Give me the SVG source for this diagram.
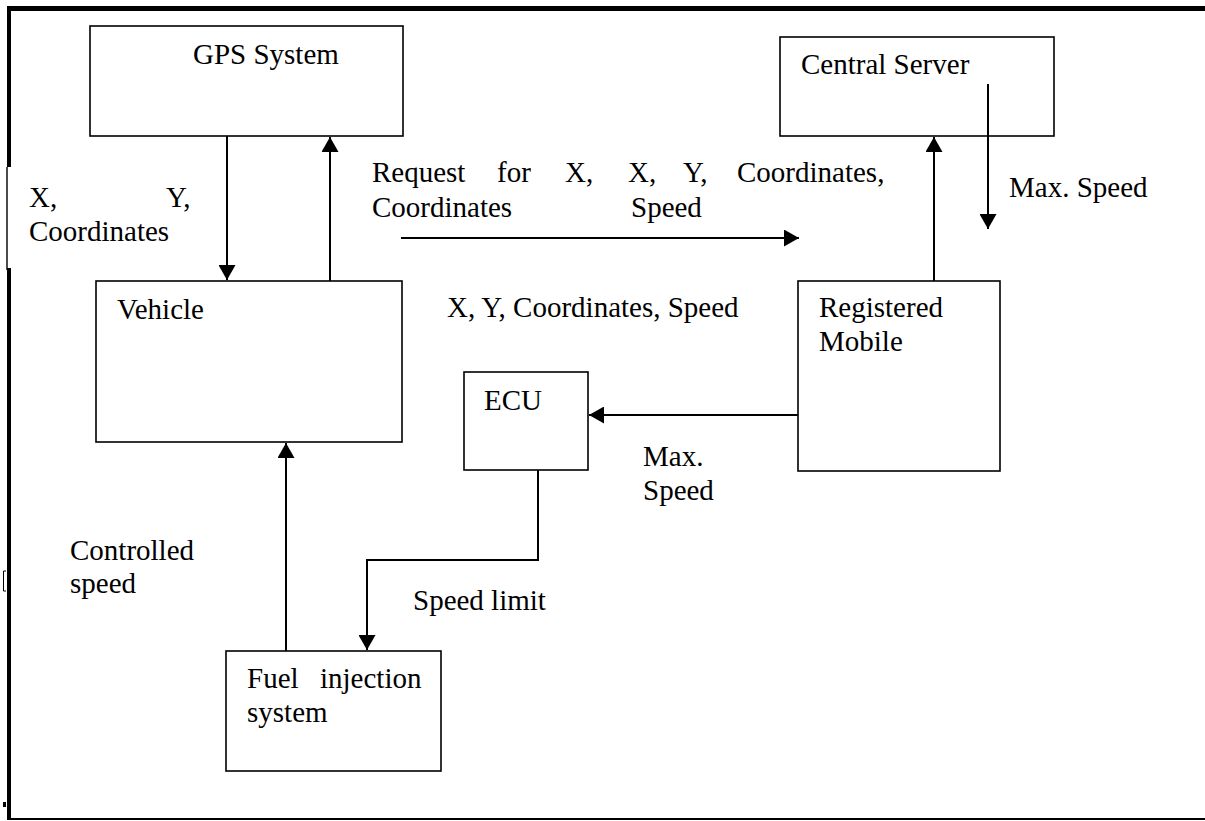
<svg xmlns="http://www.w3.org/2000/svg" width="1205" height="821" viewBox="0 0 1205 821">
<style>
  .box { fill: #fff; stroke: #000; stroke-width: 1.6; }
  .conn { fill: none; stroke: #000; stroke-width: 2; }
  text { font-family: "Liberation Serif", "Times New Roman", serif; font-size: 29px; fill: #000; }
</style>
<defs>
  <marker id="arr" markerUnits="userSpaceOnUse" markerWidth="16" markerHeight="17" refX="15" refY="8.5" orient="auto">
    <path d="M0,0 L15,8.5 L0,17 z" fill="#000"/>
  </marker>
</defs>
<rect width="1205" height="821" fill="#fff"/>
<g id="frame" fill="#000">
  <rect x="7" y="6" width="1198" height="5"/>
  <rect x="7" y="6" width="4" height="161"/>
  <rect x="6.3" y="167" width="1.4" height="103"/>
  <rect x="7" y="268" width="4" height="552"/>
  <rect x="7" y="818" width="1198" height="2"/>
  <path d="M6,571 H3.5 V591 H6" fill="none" stroke="#000" stroke-width="1"/>
  <rect x="3" y="802" width="3" height="5"/>
</g>
<g id="gps">
  <rect class="box" x="90" y="26" width="313" height="110"/>
  <text x="193" y="64">GPS System</text>
</g>
<g id="vehicle">
  <rect class="box" x="96" y="281" width="306" height="161"/>
  <text x="117" y="319">Vehicle</text>
</g>
<g id="central-server">
  <rect class="box" x="780" y="37" width="274" height="99"/>
  <text x="801" y="74">Central Server</text>
</g>
<g id="registered-mobile">
  <rect class="box" x="798" y="281" width="202" height="190"/>
  <text x="819" y="317">Registered</text>
  <text x="819" y="351">Mobile</text>
</g>
<g id="ecu">
  <rect class="box" x="464" y="372" width="124" height="98"/>
  <text x="484" y="410">ECU</text>
</g>
<g id="fuel-injection">
  <rect class="box" x="226" y="651" width="215" height="120"/>
  <text x="247" y="688">Fuel</text>
  <text x="320" y="688">injection</text>
  <text x="247" y="722">system</text>
</g>
<g id="connectors">
  <line class="conn" x1="227" y1="136" x2="227" y2="280" marker-end="url(#arr)"/>
  <line class="conn" x1="330" y1="281" x2="330" y2="137" marker-end="url(#arr)"/>
  <line class="conn" x1="401" y1="238" x2="799" y2="238" marker-end="url(#arr)"/>
  <line class="conn" x1="934" y1="281" x2="934" y2="137" marker-end="url(#arr)"/>
  <line class="conn" x1="988" y1="84" x2="988" y2="229" marker-end="url(#arr)"/>
  <line class="conn" x1="798" y1="415" x2="589" y2="415" marker-end="url(#arr)"/>
  <path class="conn" d="M538,470 V560 H367 V650" marker-end="url(#arr)"/>
  <line class="conn" x1="286" y1="651" x2="286" y2="443" marker-end="url(#arr)"/>
</g>
<g id="labels">
  <text x="29" y="207">X,</text>
  <text x="166" y="207">Y,</text>
  <text x="29" y="241">Coordinates</text>
  <text x="372" y="182">Request</text>
  <text x="497" y="182">for</text>
  <text x="565" y="182">X,</text>
  <text x="372" y="217">Coordinates</text>
  <text x="628" y="182">X,</text>
  <text x="683" y="182">Y,</text>
  <text x="737" y="182">Coordinates,</text>
  <text x="631" y="217">Speed</text>
  <text x="1009" y="197">Max. Speed</text>
  <text x="447" y="317">X, Y, Coordinates, Speed</text>
  <text x="643" y="466">Max.</text>
  <text x="643" y="500">Speed</text>
  <text x="70" y="560">Controlled</text>
  <text x="70" y="593">speed</text>
  <text x="413" y="610">Speed limit</text>
</g>
</svg>
